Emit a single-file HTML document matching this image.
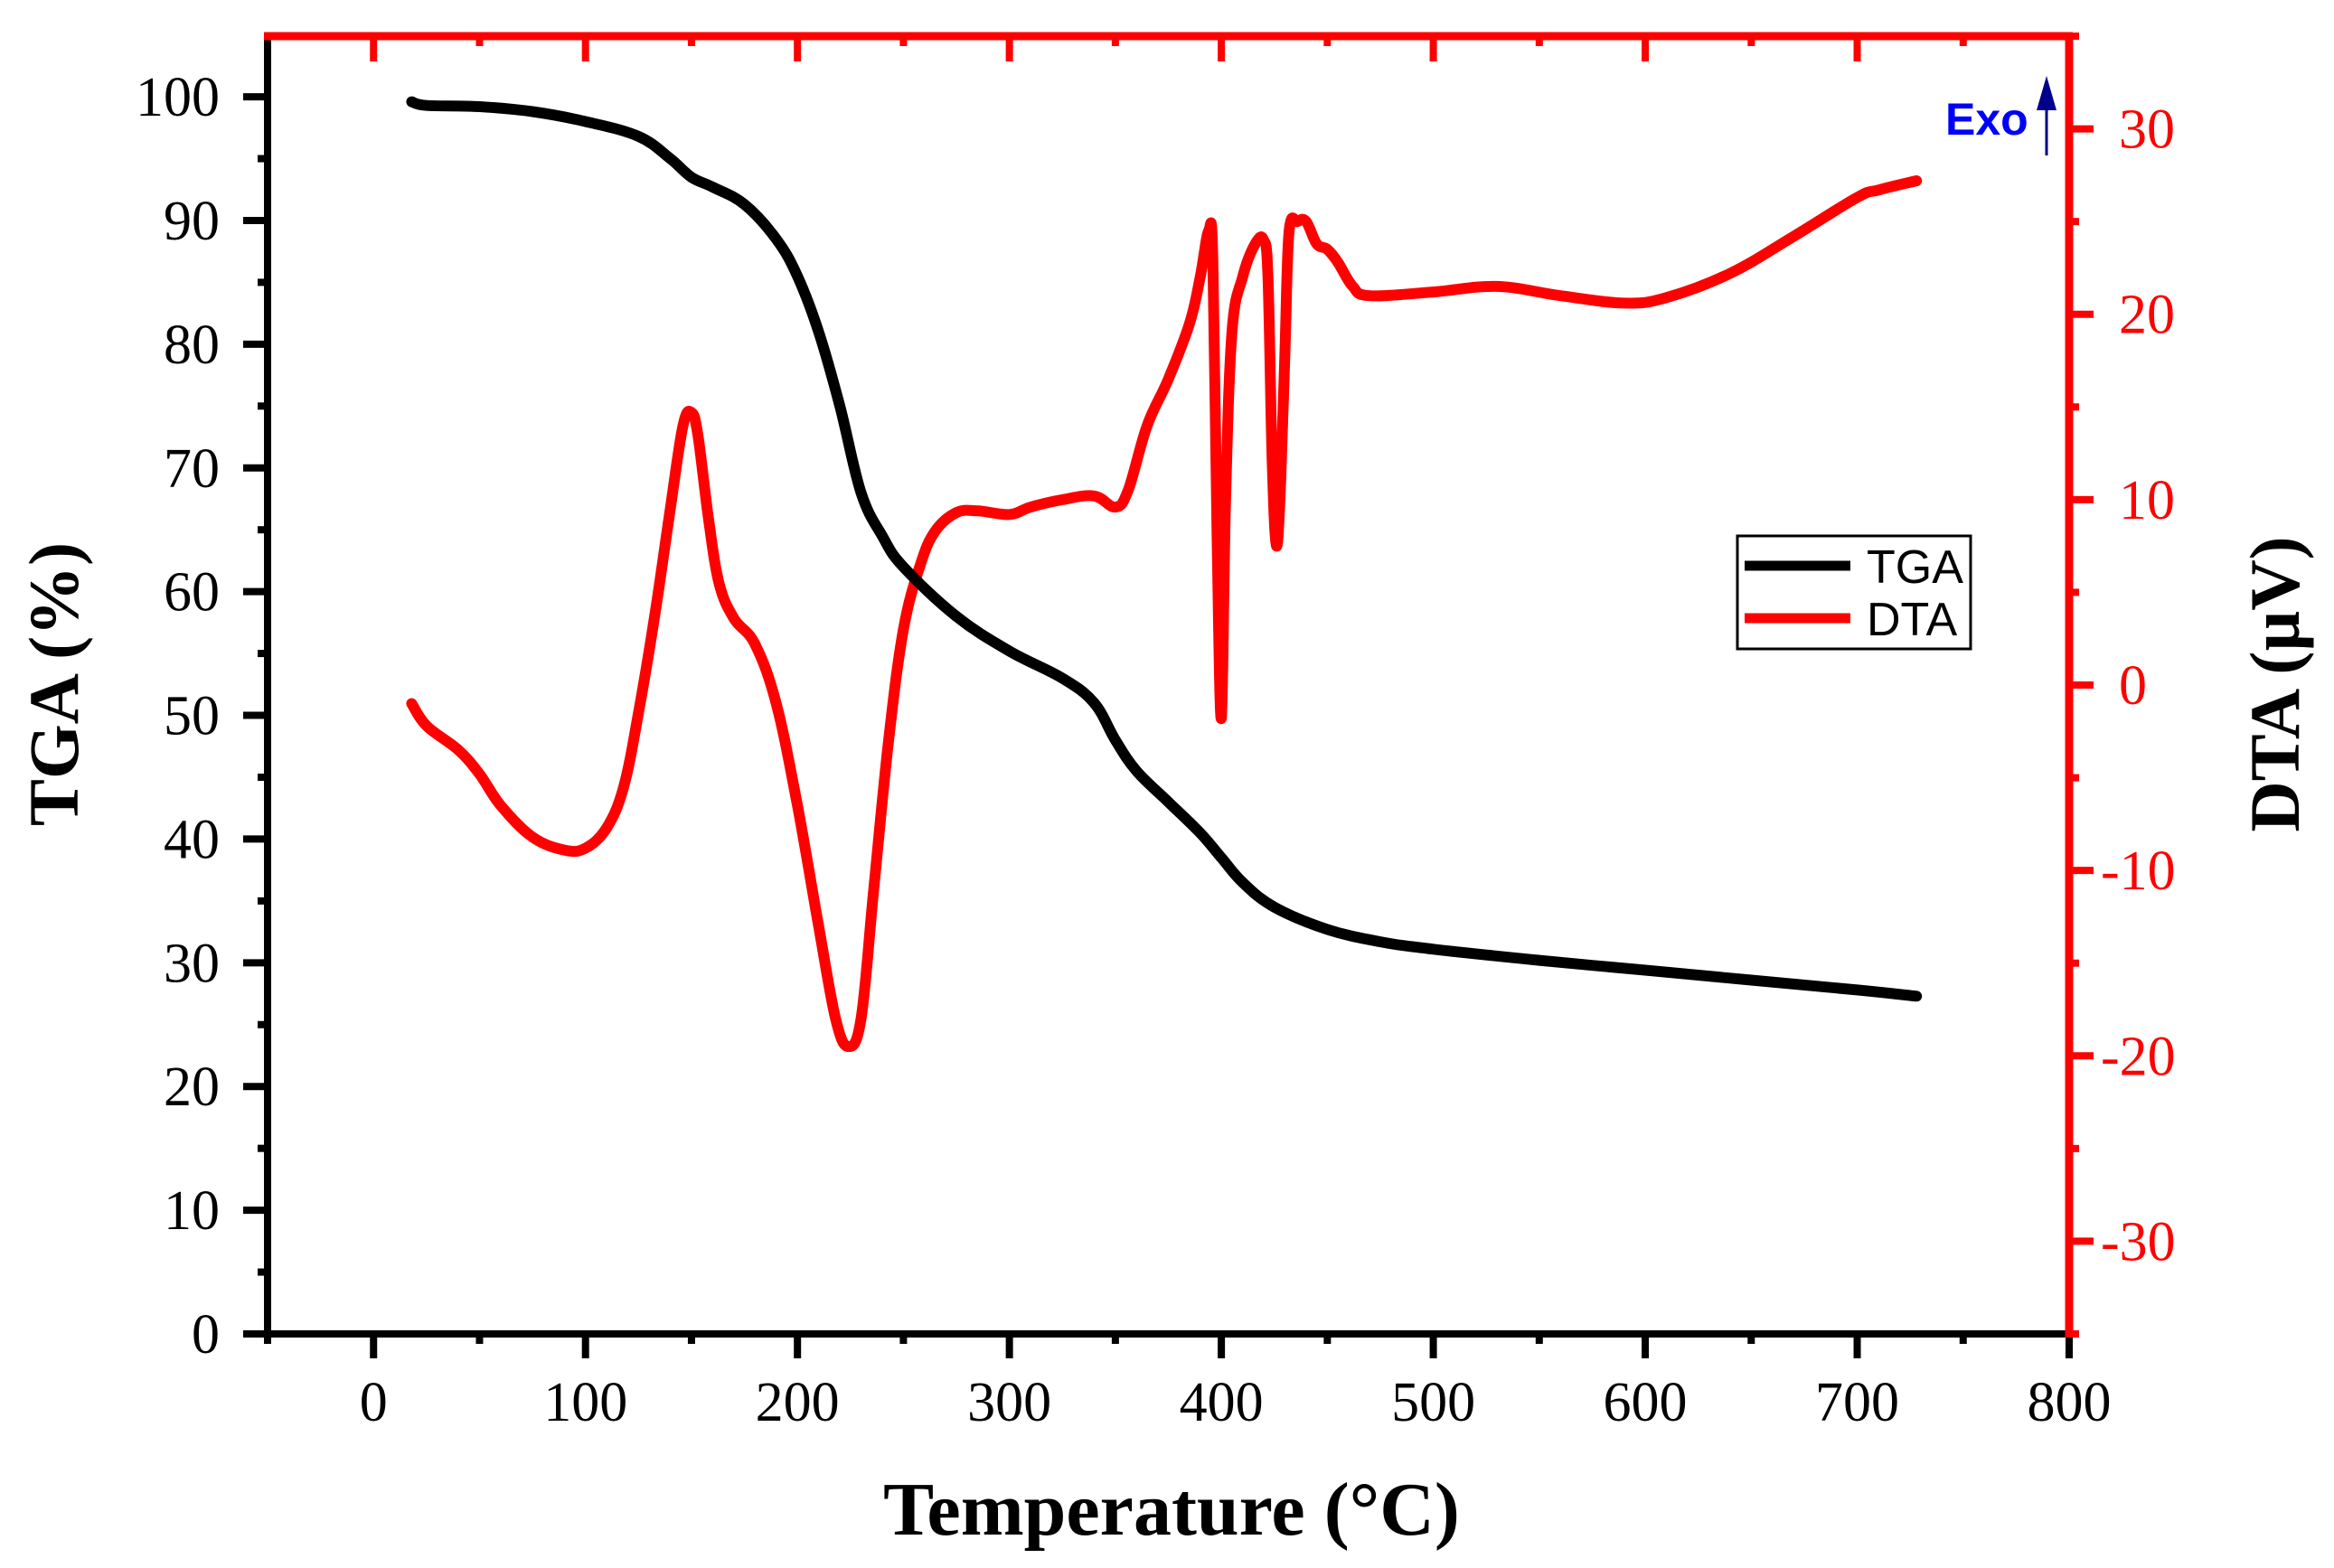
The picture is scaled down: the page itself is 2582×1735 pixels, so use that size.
<!DOCTYPE html>
<html><head><meta charset="utf-8"><style>
html,body{margin:0;padding:0;background:#fff;}
svg{display:block;}
</style></head><body>
<svg id="chart" width="2582" height="1735" viewBox="0 0 2582 1735" xmlns="http://www.w3.org/2000/svg">
<rect width="2582" height="1735" fill="#fff"/>
<g id="axes"></g>
<g id="series"></g>
<text x="1296" y="1698" text-anchor="middle" font-family="Liberation Serif, serif" font-weight="bold" font-size="84">Temperature (°C)</text>
<text transform="translate(86,757) rotate(-90)" text-anchor="middle" font-family="Liberation Serif, serif" font-weight="bold" font-size="78">TGA (%)</text>
<text transform="translate(2543,757) rotate(-90)" text-anchor="middle" font-family="Liberation Serif, serif" font-weight="bold" font-size="78">DTA (µV)</text>
<g>
<rect x="1922" y="593" width="258" height="125" fill="#fff" stroke="#000" stroke-width="3"/>
<line x1="1930" y1="626" x2="2047" y2="626" stroke="#000" stroke-width="11"/>
<text x="2065" y="645" font-family="Liberation Sans, sans-serif" font-size="52">TGA</text>
<line x1="1930" y1="684" x2="2047" y2="684" stroke="#f00" stroke-width="11"/>
<text x="2065" y="703" font-family="Liberation Sans, sans-serif" font-size="52">DTA</text>
</g>
<g>
<text x="2152" y="149" font-family="Liberation Sans, sans-serif" font-weight="bold" font-size="50" fill="#0000ff">Exo</text>
<line x1="2264" y1="115" x2="2264" y2="172" stroke="#00008b" stroke-width="3"/>
<polygon points="2264,84 2253,122 2275,122" fill="#00008b"/>
</g>
</svg>
<script>
const tgaTemp=[18,25,50,75,100,125,140,150,160,175,190,200,210,220,230,240,250,275,300,325,340,350,360,375,390,400,410,425,450,475,500,550,600,650,700,728];
const tgaValues=[99.6,99.3,99.2,98.8,98.0,96.8,95.0,93.5,92.7,91.3,88.5,85.5,81,75,68,64.5,62,58,55.2,53,51,48,45.5,43,40.5,38.5,36.5,34.5,32.7,31.7,31.1,30.2,29.4,28.6,27.8,27.3];
const dtaTemp=[18,25,40,50,60,75,90,100,110,118,125,133,140,146,150,153,158,163,170,180,190,200,210,218,224,230,236,243,250,258,265,275,285,300,310,325,340,350,356,365,375,385,390,394,396,398,400,402,405,410,416,420,422,424,426,428,430,432,436,440,445,450,455,462,470,500,530,560,590,610,640,670,700,710,728];
const dtaValues=[-1.0,-2.2,-3.5,-4.8,-6.5,-8.2,-8.9,-8.8,-7.7,-5.5,-1.5,4,9.5,14,14.7,13.5,9,5.5,3.6,2.2,-1,-6.5,-13,-18,-19.5,-18,-11,-3,3,6.5,8.3,9.3,9.4,9.2,9.6,10,10.2,9.6,10.5,14,16.5,19.5,22,24.5,23,8,-1.8,10,19,22,23.8,24,22,12,7.5,11,18,24.5,25,25,23.8,23.5,22.8,21.5,21,21.2,21.5,21,20.6,20.9,22.2,24.2,26.3,26.7,27.2];
const xTicks=[0,100,200,300,400,500,600,700,800];
const leftTicks=[0,10,20,30,40,50,60,70,80,90,100];
const rightTicks=[-30,-20,-10,0,10,20,30];

const L=296,R=2289,T=40,B=1476;
const xMin=-50,xMax=800,yLMin=0,yLMax=104.9,yRMin=-35,yRMax=35;
function sx(v){return L+(v-xMin)/(xMax-xMin)*(R-L);}
function syL(v){return B-(v-yLMin)/(yLMax-yLMin)*(B-T);}
function syR(v){return B-(v-yRMin)/(yRMax-yRMin)*(B-T);}
const NS='http://www.w3.org/2000/svg';
const axes=document.getElementById('axes');
const series=document.getElementById('series');
function mk(tag,attrs,parent){const e=document.createElementNS(NS,tag);for(const k in attrs)e.setAttribute(k,attrs[k]);parent.appendChild(e);return e;}

for(let v=xMin;v<=xMax;v+=50){
  const major=(v%100===0);
  const x=sx(v);
  const t=mk('line',{x1:x,y1:B,x2:x,y2:B+(major?27:11),stroke:'#000','stroke-width':8},axes);
  
  
  const t2=mk('line',{x1:x,y1:T,x2:x,y2:T+(major?28:11),stroke:'#f00','stroke-width':8},axes);
  
  
}
xTicks.forEach(v=>{
  const t=mk('text',{x:sx(v),y:1572,'text-anchor':'middle','font-family':'Liberation Serif, serif','font-size':'62'},axes);
  t.textContent=v;
  
  
});
for(let v=0;v<=100;v+=5){
  const major=(v%10===0);
  const y=syL(v);
  const t=mk('line',{x1:L,y1:y,x2:L-(major?27:11),y2:y,stroke:'#000','stroke-width':8},axes);
  
  
}
leftTicks.forEach(v=>{
  const t=mk('text',{x:243,y:syL(v)+21,'text-anchor':'end','font-family':'Liberation Serif, serif','font-size':'62'},axes);
  t.textContent=v;
  
  
});
for(let v=-35;v<=35;v+=5){
  const major=(v%10===0);
  const y=syR(v);
  const t=mk('line',{x1:R,y1:y,x2:R+(major?27:11),y2:y,stroke:'#f00','stroke-width':8},axes);
  
  
}
rightTicks.forEach(v=>{
  const t=mk('text',{x:(v<0?2324:2344),y:syR(v)+21,'text-anchor':'start','font-family':'Liberation Serif, serif','font-size':'62',fill:'#f00'},axes);
  t.textContent=v;
  
  
});
const ab=mk('line',{x1:L-4,y1:B,x2:R,y2:B,stroke:'#000','stroke-width':8},axes);


const al=mk('line',{x1:L,y1:T,x2:L,y2:B+4,stroke:'#000','stroke-width':8},axes);


const at=mk('line',{x1:L-4,y1:T,x2:R+4,y2:T,stroke:'#f00','stroke-width':9},axes);


const ar=mk('line',{x1:R,y1:T,x2:R,y2:B+4,stroke:'#f00','stroke-width':9},axes);



function path(xs,ys,fy){
  const p=xs.map((x,i)=>[sx(x),fy(ys[i])]);
  let d='M'+p[0][0].toFixed(1)+','+p[0][1].toFixed(1);
  const k=0.18;
  for(let i=0;i<p.length-1;i++){
    const p0=p[Math.max(0,i-1)],p1=p[i],p2=p[i+1],p3=p[Math.min(p.length-1,i+2)];
    const c1x=p1[0]+(p2[0]-p0[0])*k,c1y=p1[1]+(p2[1]-p0[1])*k;
    const c2x=p2[0]-(p3[0]-p1[0])*k,c2y=p2[1]-(p3[1]-p1[1])*k;
    d+='C'+c1x.toFixed(1)+','+c1y.toFixed(1)+' '+c2x.toFixed(1)+','+c2y.toFixed(1)+' '+p2[0].toFixed(1)+','+p2[1].toFixed(1);
  }
  return d;
}
const pd=mk('path',{d:path(dtaTemp,dtaValues,syR),fill:'none',stroke:'#f00','stroke-width':12,'stroke-linejoin':'round','stroke-linecap':'round'},series);


const pt=mk('path',{d:path(tgaTemp,tgaValues,syL),fill:'none',stroke:'#000','stroke-width':12,'stroke-linejoin':'round','stroke-linecap':'round'},series);


</script>
</body></html>
